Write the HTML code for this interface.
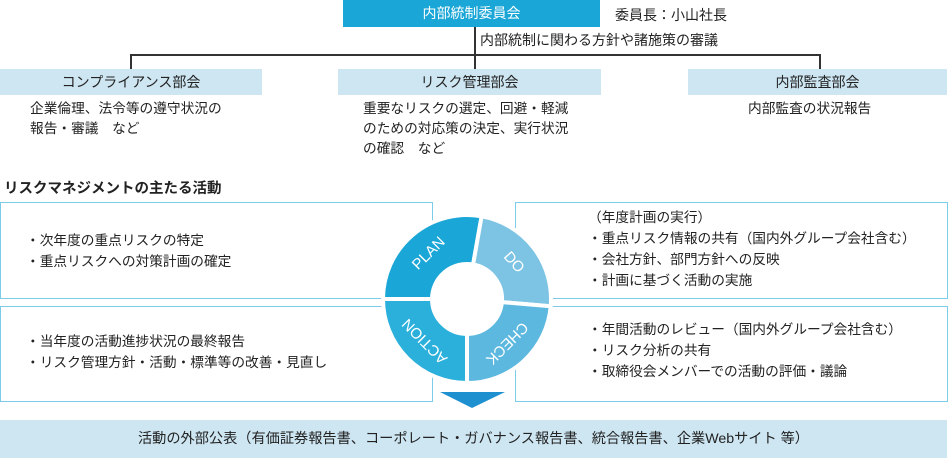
<!DOCTYPE html>
<html><head><meta charset="utf-8"><style>
body{margin:0;width:950px;height:458px;background:#fff;position:relative;overflow:hidden;font-family:"Liberation Sans","Noto Sans CJK JP",sans-serif;color:#222;font-size:13.7px}
.a{position:absolute;white-space:nowrap}
.dept{position:absolute;top:69px;height:26px;background:#cde6f2;text-align:center;line-height:26px;font-size:14px}
.box{position:absolute;border:1.5px solid #7ccbe8;box-sizing:border-box}
.ln{position:absolute;background:#333}
</style></head><body>
<div class="a" style="left:343px;top:0;width:257px;height:27px;background:#1aa6d6;color:#fff;text-align:center;line-height:27px;font-size:14px">内部統制委員会</div>
<div class="a" style="left:615px;top:5px;font-size:14px">委員長：小山社長</div>
<div class="ln" style="left:474px;top:27px;width:1.5px;height:42px"></div>
<div class="a" style="left:480px;top:30px;font-size:14px">内部統制に関わる方針や諸施策の審議</div>
<div class="ln" style="left:130px;top:54px;width:690px;height:1.5px"></div>
<div class="ln" style="left:130px;top:54px;width:1.5px;height:15px"></div>
<div class="ln" style="left:819px;top:54px;width:1.5px;height:15px"></div>
<div class="dept" style="left:0;width:262px">コンプライアンス部会</div>
<div class="dept" style="left:338px;width:263px">リスク管理部会</div>
<div class="dept" style="left:688px;width:259px">内部監査部会</div>
<div class="a" style="left:30px;top:99px;line-height:20px">企業倫理、法令等の遵守状況の<br>報告・審議　など</div>
<div class="a" style="left:363px;top:99px;line-height:20px">重要なリスクの選定、回避・軽減<br>のための対応策の決定、実行状況<br>の確認　など</div>
<div class="a" style="left:748px;top:99px;line-height:20px">内部監査の状況報告</div>
<div class="a" style="left:4px;top:177px;font-weight:bold;font-size:14.5px">リスクマネジメントの主たる活動</div>
<div class="box" style="left:0;top:202px;width:433px;height:97px"></div>
<div class="box" style="left:0;top:306px;width:433px;height:96px"></div>
<div class="box" style="left:515px;top:202px;width:433px;height:97px"></div>
<div class="box" style="left:515px;top:306px;width:433px;height:96px"></div>
<div class="a" style="left:26px;top:230px;line-height:21px">・次年度の重点リスクの特定<br>・重点リスクへの対策計画の確定</div>
<div class="a" style="left:26px;top:331px;line-height:21px">・当年度の活動進捗状況の最終報告<br>・リスク管理方針・活動・標準等の改善・見直し</div>
<div class="a" style="left:588px;top:207px;line-height:21px">（年度計画の実行）<br>・重点リスク情報の共有（国内外グループ会社含む）<br>・会社方針、部門方針への反映<br>・計画に基づく活動の実施</div>
<div class="a" style="left:588px;top:319px;line-height:21px">・年間活動のレビュー（国内外グループ会社含む）<br>・リスク分析の共有<br>・取締役会メンバーでの活動の評価・議論</div>
<svg class="a" style="left:0;top:0" width="950" height="458" id="s">
<polygon points="440,392 505,392 472,408" fill="#1e90d0"/>
</svg>
<div class="a" style="left:0;top:420px;width:947px;height:38px;background:#cde6f2;text-align:center;line-height:38px;font-size:14.2px">活動の外部公表（有価証券報告書、コーポレート・ガバナンス報告書、統合報告書、企業Webサイト 等）</div>
<script>
var s=document.getElementById('s'),cx=467,cy=299,R=84,r=35;
function p(a,rad){a=a*Math.PI/180;return (cx+rad*Math.cos(a)).toFixed(1)+','+(cy+rad*Math.sin(a)).toFixed(1);}
var segs=[[180,280,'#1aa6d6','PLAN',230,-45],[280,365,'#7dc4e4','DO',322,48],[5,90,'#5cb8df','CHECK',48,135],[90,180,'#2bb0dc','ACTION',135,-135]];
var h='';
segs.forEach(function(g){
 h+='<path d="M'+p(g[0],R)+' A'+R+','+R+' 0 0 1 '+p(g[1],R)+' L'+p(g[1],r)+' A'+r+','+r+' 0 0 0 '+p(g[0],r)+' Z" fill="'+g[2]+'" stroke="#fff" stroke-width="4"/>';
 var t=p(g[4],59).split(',');
 h+='<text x="'+t[0]+'" y="'+t[1]+'" fill="#fff" font-size="15" text-anchor="middle" dominant-baseline="middle" font-family="Liberation Sans,sans-serif" transform="rotate('+g[5]+' '+t[0]+' '+t[1]+')">'+g[3]+'</text>';
});
s.innerHTML+=h;
</script>
</body></html>
